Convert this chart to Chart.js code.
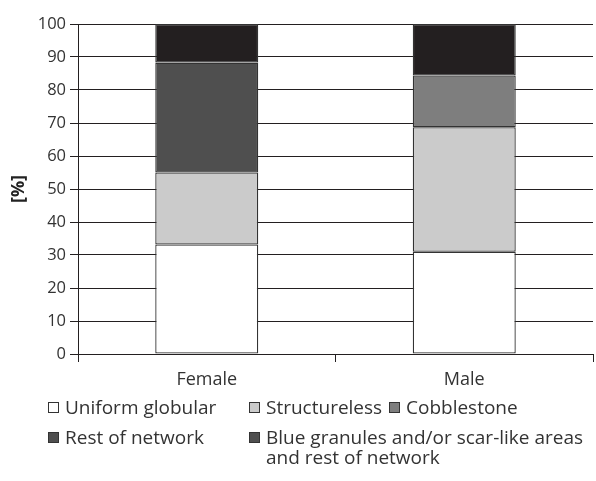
<!DOCTYPE html>
<html>
<head>
<meta charset="utf-8">
<script src="https://cdn.jsdelivr.net/npm/chart.js@4/dist/chart.umd.min.js"></script>
<style>
  html, body { margin: 0; padding: 0; background: #fff; }
  #wrap { position: relative; width: 596px; height: 481px; font-family: "Open Sans", sans-serif; color: #333; }
  #chartBox { position: absolute; left: 0; top: 0; width: 596px; height: 401px; }
  .legend { position: absolute; font-size: 19px; line-height: 20px; white-space: nowrap; }
  .legend .box { position: absolute; left: 0; top: 5px; width: 9px; height: 9px; border: 1px solid #333; }
  .legend .txt { position: absolute; left: 17px; top: 0; }
</style>
</head>
<body>
<div id="wrap">
  <div id="chartBox"><canvas id="patternChart"></canvas></div>
  <div id="legend"></div>
</div>
<script>
// categories and series values (percent)
const groups = ["Female", "Male"];
const uniformGlobular = [33.2, 31.0];
const structureless = [21.8, 37.7];
const cobblestone = [0, 15.7];
const restOfNetwork = [33.3, 0];
const blueGranules = [11.7, 15.6];
const yTicks = [0, 10, 20, 30, 40, 50, 60, 70, 80, 90, 100];

const series = [
  { label: "Uniform globular", data: uniformGlobular, color: "#ffffff" },
  { label: "Structureless", data: structureless, color: "#cbcbcb" },
  { label: "Cobblestone", data: cobblestone, color: "#7e7e7e" },
  { label: "Rest of network", data: restOfNetwork, color: "#4f4f4f" },
  { label: "Blue granules and/or scar-like areas\nand rest of network", data: blueGranules, color: "#231f20", legendColor: "#4f4f4f" },
];

// legend placement (HTML, below the canvas)
const legendSpots = [
  { x: 48, y: 397 }, { x: 249, y: 397 }, { x: 389, y: 397 },
  { x: 48, y: 427 }, { x: 249, y: 427 },
];

const legendEl = document.getElementById("legend");
series.forEach((s, i) => {
  const item = document.createElement("div");
  item.className = "legend";
  item.style.left = legendSpots[i].x + "px";
  item.style.top = legendSpots[i].y + "px";
  const box = document.createElement("span");
  box.className = "box";
  box.style.background = s.legendColor || s.color;
  const txt = document.createElement("span");
  txt.className = "txt";
  txt.innerHTML = s.label.replace("\n", "<br>");
  item.appendChild(box);
  item.appendChild(txt);
  legendEl.appendChild(item);
});

const lineColor = "#231f20";

const ctx = document.getElementById("patternChart").getContext("2d");
new Chart(ctx, {
  type: "bar",
  data: {
    labels: groups,
    datasets: series.map((s) => ({
      label: s.label,
      data: s.data,
      backgroundColor: s.color,
      borderColor: "#333333",
      borderWidth: 1.3,
      borderSkipped: false,
      categoryPercentage: 1,
      barPercentage: 0.4,
    })),
  },
  options: {
    responsive: true,
    maintainAspectRatio: false,
    animation: false,
    layout: { padding: { top: 24, right: 3, left: 0, bottom: 0 } },
    plugins: { legend: { display: false }, tooltip: { enabled: false } },
    scales: {
      x: {
        stacked: true,
        grid: { drawOnChartArea: false, drawTicks: true, tickLength: 8, color: lineColor, lineWidth: 1 },
        border: { color: lineColor, width: 1 },
        ticks: { color: "#333", font: { family: "Open Sans", size: 18 }, padding: 7 },
        afterFit: (scale) => { scale.height = 47; },
      },
      y: {
        stacked: true,
        min: 0,
        max: 100,
        afterBuildTicks: (scale) => { scale.ticks = yTicks.map((v) => ({ value: v })); },
        grid: { color: lineColor, lineWidth: 1, tickLength: 8 },
        border: { color: lineColor, width: 1 },
        ticks: { color: "#333", font: { family: "Open Sans", size: 16.5 }, padding: 4 },
        title: { display: true, text: "[%]", color: "#222", font: { family: "Open Sans", size: 18, weight: "bold" }, padding: { top: 8, bottom: 0 } },
        afterFit: (scale) => { scale.width = 78; },
      },
    },
  },
});
</script>
</body>
</html>
